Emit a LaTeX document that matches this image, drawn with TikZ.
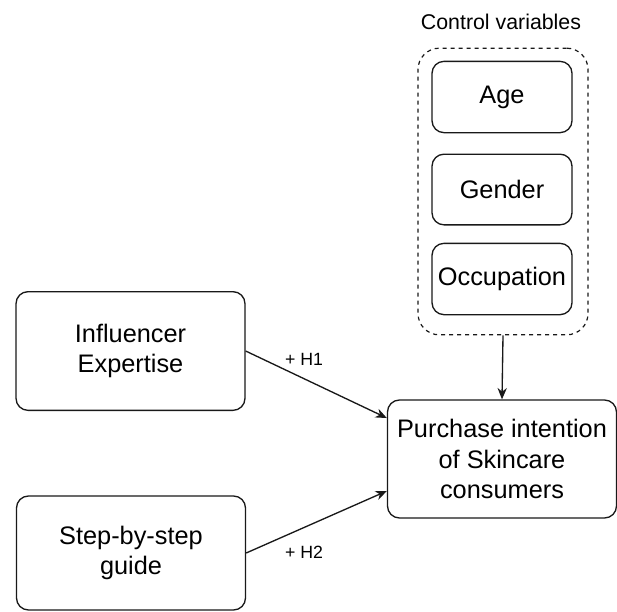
\documentclass[tikz,border=0pt]{standalone}
\usepackage{fontspec}
\setmainfont{Liberation Sans}
\usepackage{tikz}
\usetikzlibrary{arrows.meta,positioning}

\begin{document}
\begin{tikzpicture}[x=0.75pt,y=-0.75pt,>={Stealth[length=8.5pt,width=7pt]},
box/.style={draw=black!90,line width=1pt,rounded corners=9pt,align=center,font=\fontsize{19}{23}\selectfont,inner sep=2pt},
bigbox/.style={box,minimum width=171.75pt,minimum height=89pt},
varbox/.style={box,minimum width=105pt,minimum height=53.5pt},
hyp/.style={font=\fontsize{13.3}{16}\selectfont,inner sep=1pt}]
\useasboundingbox (0,0) rectangle (617,611);
\node[bigbox] (infl) at (130.5,351) {Influencer\\Expertise};
\node[bigbox,minimum height=85.5pt] (guide) at (131,553) {Step-by-step\\guide};
\node[bigbox,minimum height=88.5pt] (purch) at (502,459) {Purchase intention\\of Skincare\\consumers};
\node[draw=black!90,line width=0.9pt,dashed,rounded corners=16pt,minimum width=127.5pt,minimum height=215pt] (ctrl) at (503,191.5) {};
\node[font=\fontsize{16}{19}\selectfont] (ctrltitle) at (501,22) {Control variables};
\node[varbox] (age) at (502,97) {Age};
\node[varbox,minimum height=53pt] (gender) at (502,189.5) {Gender};
\node[varbox] (occ) at (502,279) {Occupation};
\node[hyp] (h1) at (304,359) {+ H1};
\node[hyp] (h2) at (304,552) {+ H2};
\draw[->,line width=1pt,black!90] (infl.east)--([yshift=30.75pt]purch.west);
\draw[->,line width=1pt,black!90] (guide.east)--([yshift=-24pt]purch.west);
\draw[->,line width=1pt,black!90] (ctrl.south)--(purch.north);
\end{tikzpicture}
\end{document}
